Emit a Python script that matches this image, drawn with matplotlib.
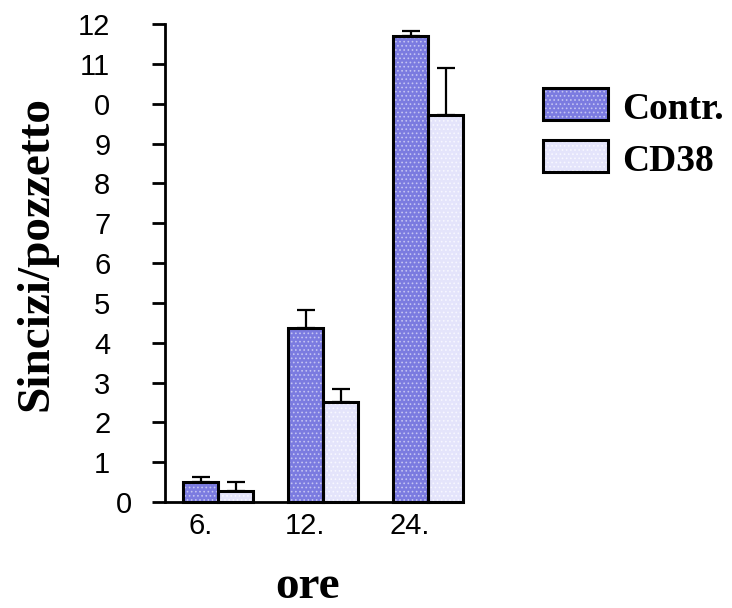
import matplotlib.pyplot as plt
import matplotlib.transforms as mtransforms
from matplotlib.patches import Rectangle
import numpy as np

# hours and mean syncytia per well
ore = ['6.', '12.', '24.']
contr = [0.51, 4.38, 11.69]
contr_err = [0.11, 0.43, 0.14]
cd38 = [0.28, 2.50, 9.72]
cd38_err = [0.21, 0.33, 1.17]
ytick_labels = ['0', '1', '2', '3', '4', '5', '6', '7', '8', '9', '0', '11', '12']
series = ['Contr.', 'CD38']

W, H = 732, 608
fig = plt.figure(figsize=(W / 100, H / 100), dpi=100)
ax = fig.add_axes([165 / W, 1 - 502 / H, 298 / W, 478 / H])

x = np.arange(len(ore))
w = 1 / 3
c_contr = '#7b7be0'
c_cd38 = '#e4e4fb'
dots = {'Contr.': '#c4c4f2', 'CD38': '#f7f7ff'}
plt.rcParams['hatch.linewidth'] = 0.7

err_kw = dict(ecolor='black', elinewidth=1.6, capsize=6.8, capthick=1.6, zorder=2.3)
for pos, vals, err, col, name in [(x - w / 2, contr, contr_err, c_contr, 'Contr.'),
                                  (x + w / 2, cd38, cd38_err, c_cd38, 'CD38')]:
    # fill, dotted texture, then outline with error bars on top
    ax.bar(pos, vals, w, color=col, linewidth=0, zorder=2)
    ax.bar(pos, vals, w, color='none', edgecolor=dots[name], hatch='....', linewidth=0, zorder=2.1)
    ax.bar(pos, vals, w, color='none', edgecolor='black', linewidth=2.2, clip_on=False,
           yerr=[[0] * 3, err], error_kw=err_kw, zorder=2.2)

ax.set_xlim(-0.505, 2.333)
ax.set_ylim(0, 12)
ax.set_yticks(range(13))
ax.set_yticklabels(ytick_labels, fontsize=21, family='Liberation Sans')
ax.set_xticks(x - 0.17)
ax.set_xticklabels(ore, fontsize=21, family='Liberation Sans')
ax.tick_params(axis='x', length=0, pad=7)
ax.tick_params(axis='y', length=9.4, width=2, pad=30)
# bottom zero label sits closer to the axis
lab0 = ax.get_yticklabels()[0]
lab0.set_transform(lab0.get_transform() + mtransforms.ScaledTranslation(0.22, 0, fig.dpi_scale_trans))

for s in ['top', 'right']:
    ax.spines[s].set_visible(False)
ax.spines['left'].set_linewidth(2)
ax.spines['bottom'].set_linewidth(2)

ax.set_ylabel('Sincizi/pozzetto', fontsize=34, fontweight='bold', family='Liberation Serif')
ax.yaxis.set_label_coords(-0.36, 0.52)
ax.set_xlabel('ore', fontsize=34, fontweight='bold', family='Liberation Serif', va='baseline')
ax.xaxis.set_label_coords(0.477, -0.2)

# legend boxes and labels
for i, (name, col) in enumerate(zip(series, [c_contr, c_cd38])):
    top = 88 + 52 * i
    xy = (543 / W, 1 - (top + 32) / H)
    fig.add_artist(Rectangle(xy, 65 / W, 32 / H, transform=fig.transFigure, facecolor=col, linewidth=0))
    fig.add_artist(Rectangle(xy, 65 / W, 32 / H, transform=fig.transFigure, facecolor='none',
                             edgecolor=dots[name], hatch='....', linewidth=0))
    fig.add_artist(Rectangle(xy, 65 / W, 32 / H, transform=fig.transFigure, facecolor='none',
                             edgecolor='black', linewidth=2.2))
    fig.text(622 / W, 1 - (top + 31) / H, name, fontsize=27, fontweight='bold',
             family='Liberation Serif', va='baseline', ha='left')

fig.savefig('out.png', dpi=100)
